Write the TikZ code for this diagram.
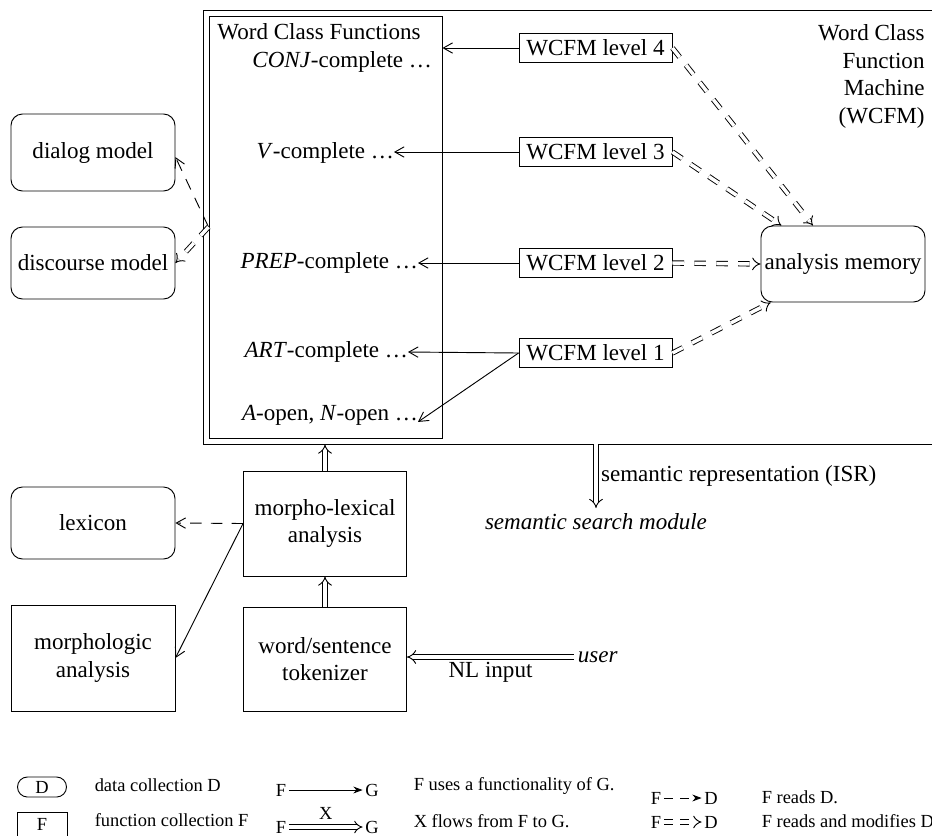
\documentclass[tikz,border=0pt]{standalone}
\usepackage{fontspec}
\setmainfont{Liberation Serif}
\usetikzlibrary{arrows.meta}

\begin{document}
\begin{tikzpicture}[x=0.4337pt, y=-0.4337pt]
        \def\px{0.4337pt}
        \tikzstyle{func}=[draw, rectangle, align=center, inner sep=0pt]
        \tikzstyle{data}=[draw, rectangle, rounded corners=5pt, align=center, inner sep=0pt]
        \tikzstyle{wcf}=[anchor=east, inner sep=0pt, outer sep=0pt]
        \tikzstyle{uses}=[-{Straight Barb[length=4pt, width=4.5pt]}]
        \tikzstyle{reads}=[dash pattern=on 5pt off 4pt, -{Straight Barb[length=4pt, width=4.5pt]}]
        \tikzstyle{flows}=[double, double distance=1.7pt, -{Implies}]
        \tikzstyle{modifies}=[double, double distance=1.5pt, dash pattern=on 5pt off 4.5pt, -{Implies}]
        \tikzstyle{keytext}=[font=\footnotesize, inner sep=1pt]

        \useasboundingbox (0,0) rectangle (932,835);
        \clip (0,0) rectangle (932,835);

        % Word Class Function Machine
        \draw node at (600,227) [draw, minimum width=794*\px, minimum height=434*\px] (machine) {};
        \draw node at (925,24) [anchor=north east, align=right, inner sep=0pt] (machine_name) {Word Class\\Function\\Machine\\(WCFM)};

        \draw node at (325.5,227) [func, minimum width=233*\px, minimum height=422*\px] (functions) {};
        \draw node at (217,32) [anchor=west, inner sep=0pt] (functions_name) {Word Class Functions};

        \draw node at (432,62) [wcf] (conj) {\textit{CONJ}-complete \ldots};
        \draw node at (394,153) [wcf] (verb) {\textit{V}-complete \ldots};
        \draw node at (418,263) [wcf] (prep) {\textit{PREP}-complete \ldots};
        \draw node at (408,352) [wcf] (art) {\textit{ART}-complete \ldots};
        \draw node at (418,415) [wcf] (open) {\textit{A}-open, \textit{N}-open \ldots};

        % Levels
        \foreach \lvl/\y in {4/48, 3/152, 2/263, 1/353}
        \draw node at (595.5,\y) [func, minimum width=153*\px, minimum height=29*\px] (level_\lvl) {WCFM level \lvl};

        \draw node at (843,264) [data, minimum width=164*\px, minimum height=76*\px] (memory) {analysis memory};

        % Models
        \draw node at (93,152.5) [data, minimum width=164*\px, minimum height=77*\px] (dialog) {dialog model};
        \draw node at (93,263) [data, minimum width=164*\px, minimum height=72*\px] (discourse) {discourse model};
        \draw node at (93,523) [data, minimum width=164*\px, minimum height=72*\px] (lexicon) {lexicon};
        \draw node at (93,658) [func, minimum width=164*\px, minimum height=106*\px] (morphologic) {morphologic\\analysis};

        % Input side
        \draw node at (325,523.5) [func, minimum width=163*\px, minimum height=105*\px] (morpho) {morpho-lexical\\analysis};
        \draw node at (325,659) [func, minimum width=163*\px, minimum height=104*\px] (tokenizer) {word/sentence\\tokenizer};
        \draw node at (574,657) [anchor=west, inner sep=1.5pt, font=\itshape] (user) {user};
        \draw node at (596,508) [anchor=north, inner sep=2pt, font=\itshape] (search) {semantic search module};

        % Levels -> Functions
        \draw [uses] (level_4.west) -- (level_4.west -| functions.east);
        \draw [uses] (level_3.west) -- (level_3.west -| verb.east);
        \draw [uses] (level_2.west) -- (prep.east);
        \draw [uses] (level_1.west) -- (art.east);
        \draw [uses] (level_1.west) -- ([yshift=-3pt]open.east);

        % Levels -> Memory
        \draw [modifies] (level_4.east) -- (memory.128);
        \draw [modifies] (level_3.east) -- (memory.148);
        \draw [modifies] (level_2.east) -- (memory.west);
        \draw [modifies] (level_1.east) -- (memory.208);

        % Functions -> Models
        \draw [reads] (functions.west) -- ([yshift=-2pt]dialog.east);
        \draw [modifies] (functions.west) -- (discourse.east);

        % Morpho-lexical analysis
        \draw [reads] (morpho.west) -- (lexicon.east);
        \draw [uses] (morpho.west) -- (morphologic.east);
        \draw [flows] (tokenizer.north) -- (morpho.south);
        \draw [flows] (morpho.north) -- (morpho.north |- machine.south);
        \draw [flows] (user.west) -- (user.west -| tokenizer.east) node [midway, below, inner sep=2pt] {NL input};
        \draw [flows] (machine.south -| search.north) -- (search.north) node [midway, right, inner sep=2pt] {semantic representation (ISR)};

        % Legend
        \draw node at (42,787) [data, keytext, rounded corners=4.3pt, minimum width=49*\px, minimum height=20*\px] (key_data) {D};
        \draw node at (92,785) [keytext, anchor=west] (key_data_text) {data collection D};
        \draw node at (42,824) [func, keytext, minimum width=50*\px, minimum height=24*\px] (key_func) {F};
        \draw node at (92,820) [keytext, anchor=west] (key_func_text) {function collection F};

        \draw node at (281,790) [keytext] (uses_from) {F};
        \draw node at (372,790) [keytext] (uses_to) {G};
        \draw [-{Stealth[length=4pt]}] (uses_from) -- (uses_to);
        \draw node at (411,786) [keytext, anchor=west] (uses_text) {F uses a functionality of G.};

        \draw node at (281,827) [keytext] (flows_from) {F};
        \draw node at (372,827) [keytext] (flows_to) {G};
        \draw [double, double distance=1.5pt, -{Implies}] (flows_from) -- (flows_to) node [midway, above=2pt, keytext] {X};
        \draw node at (411,821) [keytext, anchor=west] (flows_text) {X flows from F to G.};

        \draw node at (656,798) [keytext] (reads_from) {F};
        \draw node at (711,798) [keytext] (reads_to) {D};
        \draw [dash pattern=on 4pt off 3pt, -{Stealth[length=4pt]}] (reads_from) -- (reads_to);
        \draw node at (759,797) [keytext, anchor=west] (reads_text) {F reads D.};

        \draw node at (656,822) [keytext] (mod_from) {F};
        \draw node at (711,822) [keytext] (mod_to) {D};
        \draw [double, double distance=1.5pt, dash pattern=on 4pt off 3pt, -{Implies}] (mod_from) -- (mod_to);
        \draw node at (759,821) [keytext, anchor=west] (mod_text) {F reads and modifies D};

\end{tikzpicture}
\end{document}
